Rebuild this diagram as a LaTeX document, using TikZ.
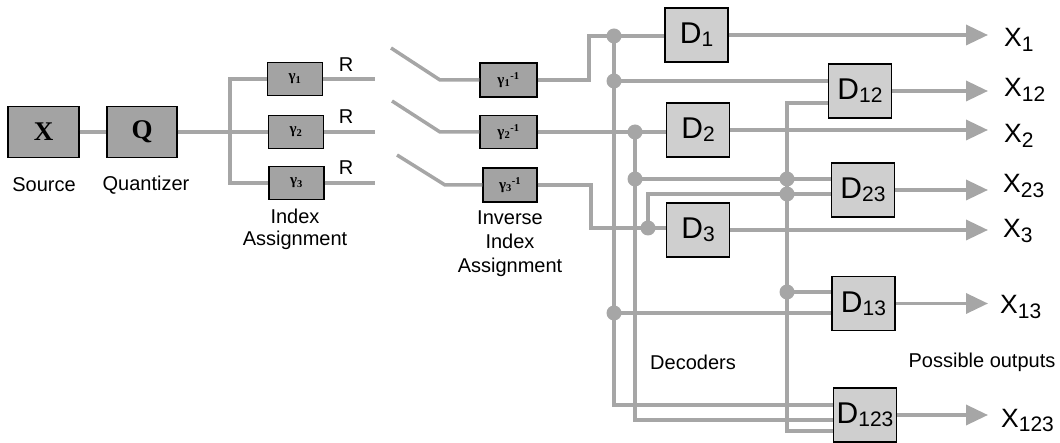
\documentclass[tikz,border=0pt]{standalone}
\usepackage{fontspec}
\setmainfont{Liberation Sans}
\newfontfamily\tms{Liberation Serif}
\usetikzlibrary{arrows.meta}

\definecolor{wirecol}{HTML}{A6A6A6}
\definecolor{darkfill}{HTML}{A3A3A3}
\definecolor{lightfill}{HTML}{CFCFCF}

% lowered index digits for decoder and output names
\newcommand{\lo}[1]{\raisebox{-5pt}{\fontsize{21}{21}\selectfont #1}}
\newcommand{\dlo}[1]{\raisebox{-3pt}{\fontsize{21}{21}\selectfont #1}}
% bold serif gamma mapping labels
\newcommand{\gam}[1]{{\tms\bfseries\fontsize{15}{15}\selectfont γ\textsubscript{#1}}}
\newcommand{\gaminv}[1]{{\tms\bfseries\fontsize{15}{15}\selectfont γ\textsubscript{#1}\textsuperscript{-1}}}

\tikzset{
  wire/.style={draw=wirecol, line width=3.5pt},
  outarrow/.style={wire, -{Triangle[length=22pt,width=20pt]}},
  blk/.style={draw=black, line width=1.3pt, fill=darkfill, inner sep=0pt},
  bigblk/.style={blk, minimum width=71pt, minimum height=51pt,
    font=\tms\bfseries\fontsize{27}{27}\selectfont},
  mapblk/.style={blk, minimum width=55pt, minimum height=33pt},
  dec/.style={draw=black, line width=1.8pt, fill=lightfill, inner sep=0pt,
    minimum width=63pt, minimum height=54pt, font=\fontsize{30}{30}\selectfont},
  lbl/.style={font=\fontsize{20}{22}\selectfont, align=center, inner sep=0pt},
  outlbl/.style={font=\fontsize{26.5}{26.5}\selectfont, anchor=base west, inner sep=0pt},
  junction/.style={circle, fill=wirecol, minimum size=15pt, inner sep=0pt},
}

\begin{document}
\begin{tikzpicture}[x=1pt,y=-1pt]
\useasboundingbox (0,0) rectangle (1060,443);

% ---- encoder side ----
\node[bigblk] (src) at (43.5,132) {X};
\node[bigblk, minimum width=70pt] (Q) at (142,132) {Q};
\node[mapblk] (g1) at (295,79) {\gam{1}};
\node[mapblk] (g2) at (296,132) {\gam{2}};
\node[mapblk] (g3) at (296.5,183) {\gam{3}};

\node[lbl] (srclbl) at (44,185) {Source};
\node[lbl] (qlbl) at (146,185) {Quantizer};
\node[lbl] (ialbl) at (295,229) {Index\\Assignment};
\node[lbl] (R1) at (346,65) {R};
\node[lbl] (R2) at (346,117) {R};
\node[lbl] (R3) at (346,168) {R};

\coordinate (sp) at (230,132);
\coordinate (rend) at (375,0);

\draw[wire] (src.east) -- (Q.west);
\draw[wire] (Q.east) -- (sp);
\draw[wire] (g1.west) -| (sp) |- (g3.west);
\draw[wire] (sp) -- (g2.west);
\draw[wire] (g1.east) -- (g1.east -| rend);
\draw[wire] (g2.east) -- (g2.east -| rend);
\draw[wire] (g3.east) -- (g3.east -| rend);

% ---- channel switches and inverse mappings ----
\node[mapblk, minimum width=57pt, minimum height=34pt] (i1) at (508.5,80) {\gaminv{1}};
\node[mapblk, minimum width=57pt, minimum height=33pt] (i2) at (508.5,132) {\gaminv{2}};
\node[mapblk, minimum width=54pt, minimum height=34pt] (i3) at (510,185) {\gaminv{3}};
\node[lbl, font=\fontsize{20}{24}\selectfont] (iialbl) at (510,244) {Inverse\\Index\\Assignment};

\coordinate (s1) at (391,48);  \coordinate (p1) at (440,80);
\coordinate (s2) at (392,101); \coordinate (p2) at (440,132);
\coordinate (s3) at (397,155); \coordinate (p3) at (445,185);
\draw[wire] (s1) -- (p1) -- (i1.west);
\draw[wire] (s2) -- (p2) -- (i2.west);
\draw[wire] (s3) -- (p3) -- (i3.west);

% ---- decoders ----
\node[dec] (D1) at (696.5,35) {D\dlo{1}};
\node[dec] (D2) at (698,130) {D\dlo{2}};
\node[dec] (D3) at (698,230) {D\dlo{3}};
\node[dec] (D12) at (860,91) {D\dlo{12}};
\node[dec] (D23) at (863,190) {D\dlo{23}};
\node[dec] (D13) at (863.5,303.5) {D\dlo{13}};
\node[dec] (D123) at (865,415) {D\dlo{123}};

\node[lbl] (declbl) at (693,362) {Decoders};
\node[lbl] (outlbltxt) at (982,362) {Possible outputs};

% description 1 bus
\coordinate (c1) at (589,36);
\coordinate (a1) at (614,36);
\coordinate (a2) at (614,81);
\coordinate (a3) at (614,313);
\coordinate (a4) at (614,405);
\draw[wire] (i1.east) -| (c1) -- (D1.west |- c1);
\draw[wire] (a1) -- (a4) -- (D123.west |- a4);
\draw[wire] (a2) -- (D12.west |- a2);
\draw[wire] (a3) -- (D13.west |- a3);

% description 2 bus
\coordinate (b1) at (635,132);
\coordinate (b2) at (635,179);
\coordinate (b3) at (635,420);
\draw[wire] (i2.east) -- (D2.west |- i2.east);
\draw[wire] (b1) -- (b3) -- (D123.west |- b3);
\draw[wire] (b2) -- (D23.west |- b2);

% description 3 bus
\coordinate (c3) at (591,228);
\coordinate (e1) at (648,228);
\coordinate (e2) at (648,194);
\draw[wire] (i3.east) -| (c3) -- (D3.west |- c3);
\draw[wire] (e1) -- (e2) -- (D23.west |- e2);

% shared bus on the right
\coordinate (f0) at (787,103);
\coordinate (f1) at (787,179);
\coordinate (f2) at (787,194);
\coordinate (f3) at (787,292);
\coordinate (f4) at (787,431);
\draw[wire] (D12.west |- f0) -- (f0) -- (f4) -- (D123.west |- f4);
\draw[wire] (f3) -- (D13.west |- f3);

% junction dots
\foreach \j in {a1,a2,a3,b1,b2,e1,f1,f2,f3}
  \node[junction] at (\j) {};

% ---- outputs ----
\coordinate (tip) at (988,0);
\foreach \d in {D1,D12,D2,D23,D3,D13,D123}
  \draw[outarrow] (\d.east) -- (\d.east -| tip);

\node[outlbl] (x1) at (1004,47) {X\lo{1}};
\node[outlbl] (x12) at (1004,97) {X\lo{12}};
\node[outlbl] (x2) at (1004,143) {X\lo{2}};
\node[outlbl] (x23) at (1003,193) {X\lo{23}};
\node[outlbl] (x3) at (1003,238) {X\lo{3}};
\node[outlbl] (x13) at (1000,314) {X\lo{13}};
\node[outlbl] (x123) at (1001,427) {X\lo{123}};
\end{tikzpicture}
\end{document}
